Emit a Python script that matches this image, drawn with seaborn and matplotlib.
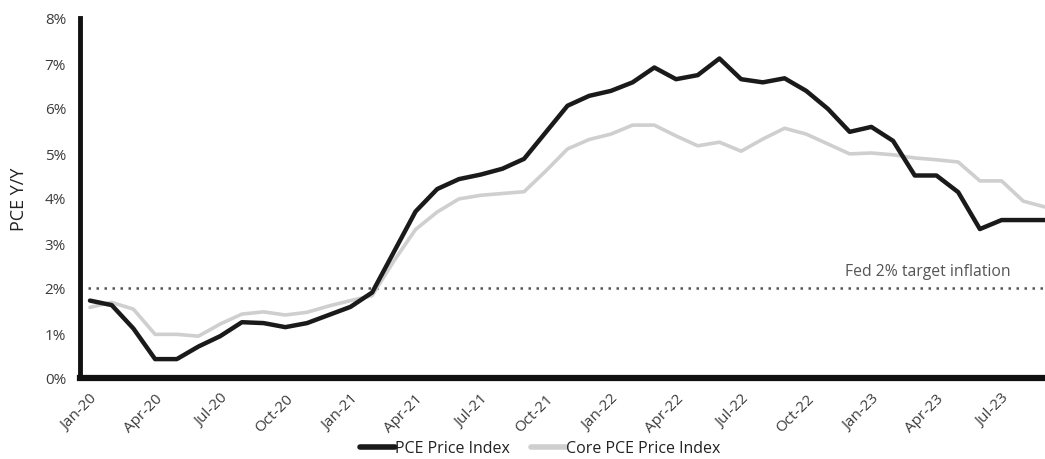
import numpy as np
import pandas as pd
import matplotlib
matplotlib.use("Agg")
import matplotlib.pyplot as plt
import seaborn as sns

# Monthly year-over-year PCE inflation, Jan-20 through Sep-23 (percent)
months = pd.date_range("2020-01-01", "2023-09-01", freq="MS")
month_labels = [d.strftime("%b-%y") for d in months]

pce = [1.72, 1.62, 1.10, 0.42, 0.42, 0.70, 0.93, 1.24, 1.22, 1.13,
       1.22, 1.40, 1.58, 1.90, 2.80, 3.70, 4.20, 4.42, 4.52, 4.65,
       4.87, 5.46, 6.05, 6.27, 6.38, 6.57, 6.90, 6.64, 6.73, 7.10,
       6.64, 6.57, 6.66, 6.38, 5.98, 5.47, 5.58, 5.27, 4.50, 4.50,
       4.13, 3.31, 3.51, 3.51, 3.51]
core_pce = [1.57, 1.68, 1.53, 0.97, 0.97, 0.93, 1.20, 1.42, 1.47, 1.40,
            1.46, 1.60, 1.72, 1.83, 2.60, 3.30, 3.69, 3.98, 4.06, 4.10,
            4.14, 4.60, 5.09, 5.30, 5.42, 5.62, 5.62, 5.38, 5.16, 5.24,
            5.04, 5.31, 5.55, 5.42, 5.20, 4.98, 5.00, 4.96, 4.89, 4.85,
            4.80, 4.38, 4.38, 3.93, 3.80]

series_names = ["PCE Price Index", "Core PCE Price Index"]
fed_target = 2.0
y_ticks = [0, 1, 2, 3, 4, 5, 6, 7, 8]

df = pd.DataFrame({
    "idx": list(range(len(months))) * 2,
    "value": pce + core_pce,
    "series": [series_names[0]] * len(pce) + [series_names[1]] * len(core_pce),
})

sns.set_style("white")
plt.rcParams["font.family"] = ["Open Sans", "DejaVu Sans"]

fig = plt.figure(figsize=(10.45, 4.6), dpi=100)
ax = fig.add_axes([80 / 1045, 1 - 379 / 460, 1 - 80 / 1045, (379 - 19) / 460])

palette = {series_names[0]: "#1a1a1a", series_names[1]: "#cfcfcf"}
sizes = {series_names[0]: 3.2, series_names[1]: 2.6}
# draw core first so the headline line sits on top
for name in [series_names[1], series_names[0]]:
    sns.lineplot(data=df[df["series"] == name], x="idx", y="value", ax=ax,
                 color=palette[name], linewidth=sizes[name], label=name,
                 legend=False, zorder=3 if name == series_names[0] else 2)

# Fed target reference line
ax.axhline(fed_target, xmin=0.008, color="#555555", linestyle=(0, (1, 2.2)),
           linewidth=1.8, zorder=1)
ax.text(34.8, fed_target + 0.2, "Fed 2% target inflation", fontsize=11.3,
        color="#555555", ha="left", va="bottom")

ax.set_xlim(-0.46, 44.0)
ax.set_ylim(0, 8)
ax.set_yticks(y_ticks)
ax.set_yticklabels([f"{v}%" for v in y_ticks])
tick_idx = list(range(0, len(months), 3))
ax.set_xticks(tick_idx)
ax.set_xticklabels([month_labels[i] for i in tick_idx], rotation=45,
                   ha="right", rotation_mode="anchor")
ax.tick_params(axis="both", length=0, labelsize=11, colors="#3c3c3c")
ax.tick_params(axis="y", pad=10)
ax.tick_params(axis="x", pad=9)
ax.set_xlabel("")
ax.set_ylabel("PCE Y/Y", fontsize=13, color="#222222", labelpad=12)

for side in ["top", "right"]:
    ax.spines[side].set_visible(False)
ax.spines["left"].set_linewidth(3.5)
ax.spines["left"].set_color("#111111")
ax.spines["bottom"].set_linewidth(4.5)
ax.spines["bottom"].set_color("#111111")

handles = [plt.Line2D([], [], color=palette[n], linewidth=4) for n in series_names]
fig.legend(handles, series_names, loc="lower center", ncol=2, frameon=False,
           bbox_to_anchor=(540 / 1045, -0.025), fontsize=11.5, handlelength=2.2,
           handletextpad=0.0, columnspacing=1.3, labelcolor="#222222")

fig.savefig("out.png", dpi=100)
